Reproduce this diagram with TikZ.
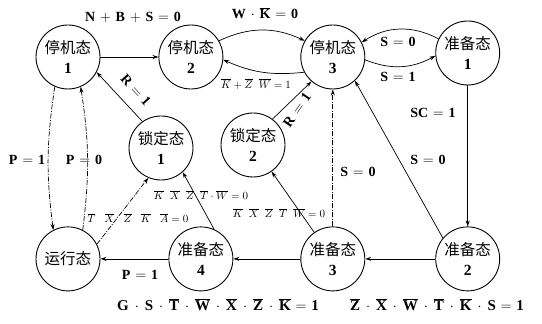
\documentclass[tikz,border=0pt]{standalone}
\usepackage{fontspec}
\setmainfont{Liberation Serif}
\newfontfamily\cjk{Noto Sans CJK SC}
\usetikzlibrary{arrows.meta, positioning}
\newcommand{\negB}[1]{\overline{\mathbf{#1}}}
\newcommand{\negI}[1]{\overline{#1}}
\tikzset{
  state/.style={circle, draw, line width=0.9pt, minimum size=64pt, inner sep=0pt,
    align=center, font=\fontsize{15.5}{20}\selectfont},
  arrow/.style={-{Stealth[length=6pt, width=4pt]}, line width=0.7pt},
  dasharrow/.style={arrow, dash pattern=on 5pt off 1.5pt on 1pt off 1.5pt},
  cond/.style={font=\fontsize{14}{16}\selectfont\bfseries, inner sep=1pt,
    execute at begin node={\medmuskip=6mu\thickmuskip=6mu}},
  bigcond/.style={font=\fontsize{15}{17}\selectfont\bfseries, inner sep=1pt,
    execute at begin node={\medmuskip=7.5mu\thickmuskip=6mu}},
  smallcond/.style={font=\fontsize{11}{13}\selectfont, inner sep=1pt},
}
\begin{document}
\begin{tikzpicture}[x=1pt, y=1pt]
  \useasboundingbox (0,0) rectangle (542,324);
  % top row: stop states and ready 1
  \node[state] (st1) at (68,267) {{\cjk 停机态}\\\textbf{1}};
  \node[state, right=58pt of st1] (st2) {{\cjk 停机态}\\\textbf{2}};
  \node[state, right=77pt of st2] (st3) {{\cjk 停机态}\\\textbf{3}};
  \node[state, right=70pt of st3, yshift=4pt] (pr1) {{\cjk 准备态}\\\textbf{1}};
  % bottom row
  \node[state, below=137pt of st1] (run) {\cjk 运行态};
  \node[state, right=68pt of run] (pr4) {{\cjk 准备态}\\\textbf{4}};
  \node[state, right=67pt of pr4] (pr3) {{\cjk 准备态}\\\textbf{3}};
  \node[state, right=70pt of pr3] (pr2) {{\cjk 准备态}\\\textbf{2}};
  % lock states
  \node[state] (lk1) at (161,176) {{\cjk 锁定态}\\\textbf{1}};
  \node[state] (lk2) at (253,179) {{\cjk 锁定态}\\\textbf{2}};

  \draw[arrow] (st1) -- (st2);
  \draw[arrow] (st2.30) to[bend left=25] (st3.150);
  \draw[arrow] (st3.-152) to[bend left=15] (st2.-5);
  \draw[arrow] (pr1.154) to[bend right=30] (st3.27);
  \draw[arrow] (st3.-5) to[bend right=25] (pr1.185);
  \draw[arrow] (pr1) -- (pr2);
  \draw[arrow] (pr2.140) -- (st3.-47);
  \draw[arrow] (pr2) -- (pr3);
  \draw[arrow] (pr3) -- (pr4);
  \draw[arrow] (pr4) -- (run);
  \draw[dasharrow] (pr3) -- (st3);
  \draw[arrow] (pr3) -- (lk2);
  \draw[arrow] (pr4.66) -- (lk1.-48);
  \draw[dasharrow] (run.27) -- (lk1.-113);
  \draw[arrow] (lk1.125) -- (st1.-28);
  \draw[arrow] (lk2.53) -- (st3.-131);
  \draw[dasharrow] (st1.-114) to[bend right=8] (run.117);
  \draw[dasharrow] (run.63) to[bend right=8] (st1.-67);

  % conditions
  \node[cond] (cNBS) at (133,307) {$\mathbf{N}+\mathbf{B}+\mathbf{S}=\mathbf{0}$};
  \node[cond] (cWK) at (265,311) {$\mathbf{W}\cdot\negB{K}=\mathbf{0}$};
  \node[smallcond] (cKZW) at (256,240) {$\negI{K}+\negI{Z}\;\;\negI{W}=1$};
  \node[cond] (cS0a) at (398,282) {$\mathbf{S}=\mathbf{0}$};
  \node[cond] (cS1) at (398,247) {$\mathbf{S}=\mathbf{1}$};
  \node[cond] (cSC) at (433,211) {$\mathbf{SC}=\mathbf{1}$};
  \node[cond, rotate=-48] (cR1a) at (136,234) {$\mathbf{R}=\mathbf{1}$};
  \node[cond, rotate=55] (cR1b) at (297,214) {$\mathbf{R}=\mathbf{1}$};
  \node[cond] (cS0b) at (358,152) {$\mathbf{S}=\mathbf{0}$};
  \node[cond] (cS0c) at (428,164) {$\mathbf{S}=\mathbf{0}$};
  \node[cond] (cP1a) at (27,164) {$\mathbf{P}=\mathbf{1}$};
  \node[cond] (cP0) at (84,164) {$\mathbf{P}=\mathbf{0}$};
  \node[cond] (cP1b) at (140,49) {$\mathbf{P}=\mathbf{1}$};
  \node[smallcond] (cTXZ) at (138,106)
    {$\negI{T}\;\;\;\negI{X}\;\;\;\negI{Z}\;\;\;\negI{K}\;\;\;\negI{A}=0$};
  \node[smallcond] (cKXa) at (201,129)
    {$\negI{K}\;\;\negI{X}\;\;\negI{Z}\;\;\negI{T}\cdot\negI{W}=0$};
  \node[smallcond] (cKXb) at (279,111)
    {$\negI{K}\;\;\negI{X}\;\;\negI{Z}\;\;\negI{T}\;\;\negI{W}=0$};
  \node[bigcond] (cG) at (218,19)
    {$\mathbf{G}\cdot\mathbf{S}\cdot\negB{T}\cdot\negB{W}\cdot\negB{X}\cdot\negB{Z}\cdot\negB{K}=\mathbf{1}$};
  \node[bigcond] (cZ) at (437,19)
    {$\negB{Z}\cdot\negB{X}\cdot\negB{W}\cdot\negB{T}\cdot\negB{K}\cdot\mathbf{S}=\mathbf{1}$};
\end{tikzpicture}
\end{document}
